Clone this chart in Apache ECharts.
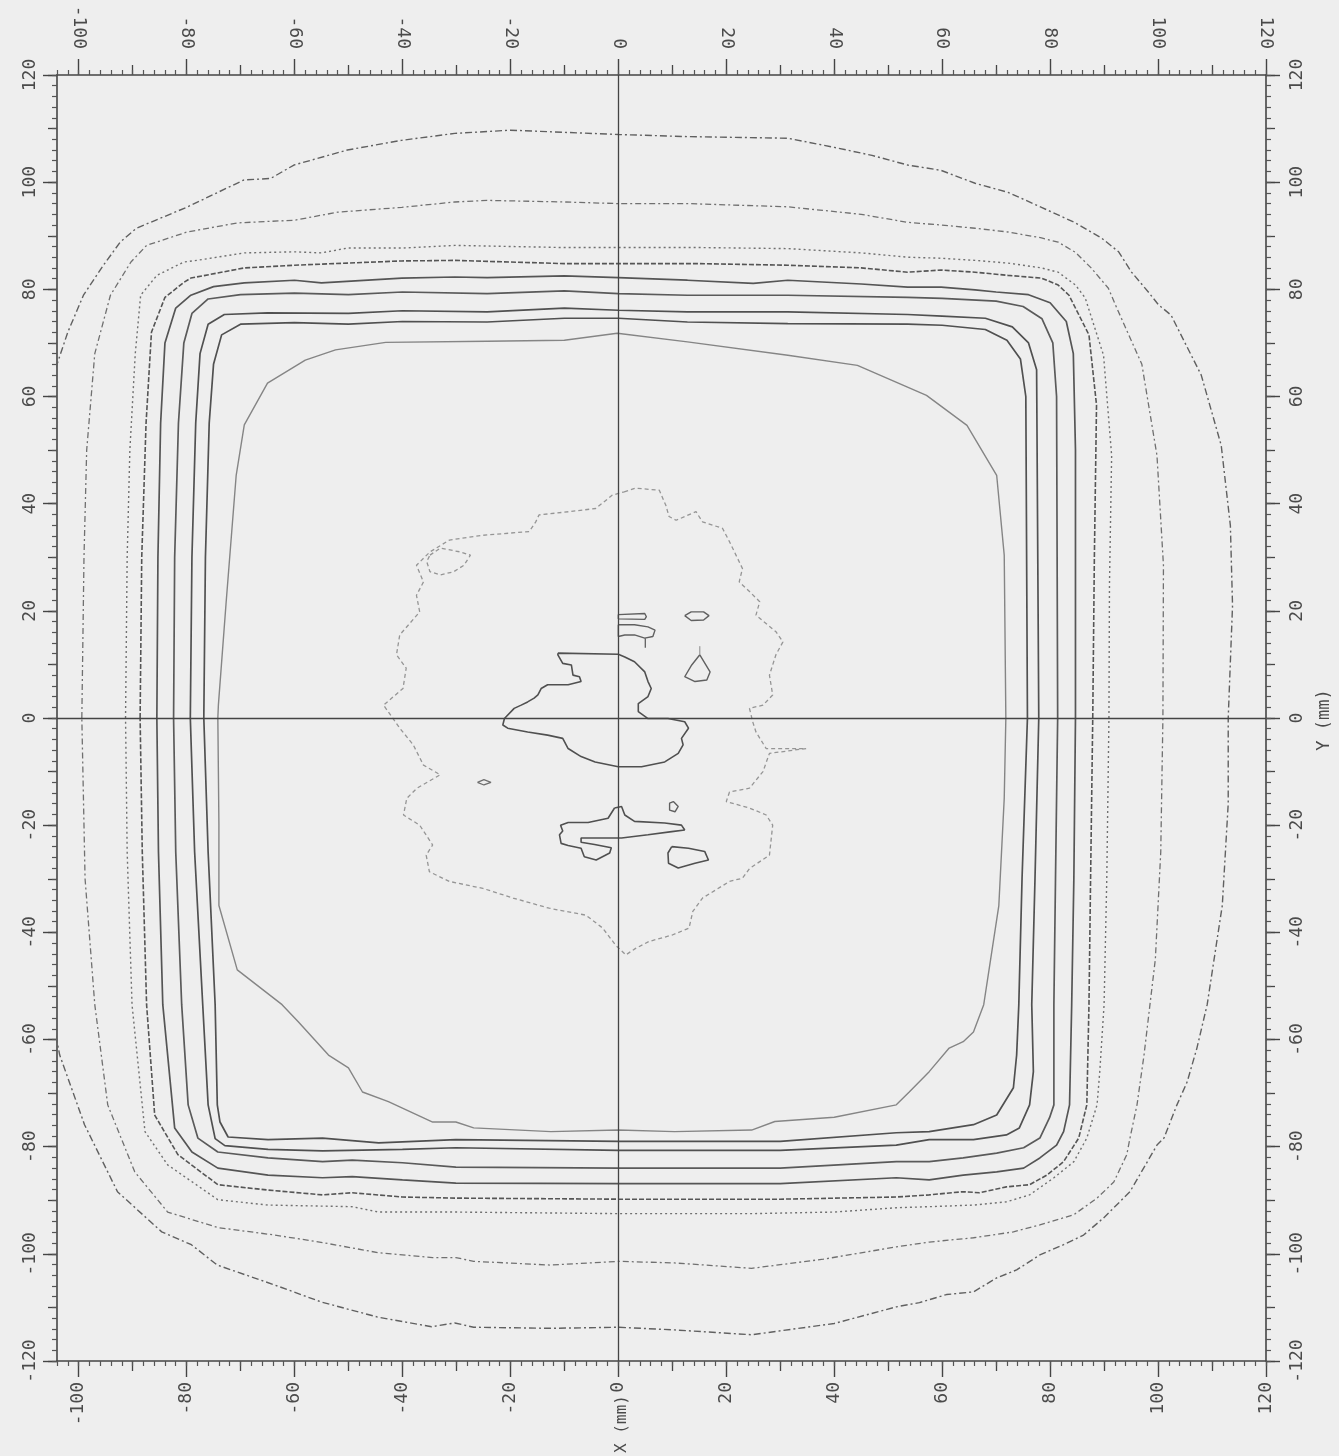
<!DOCTYPE html>
<html>
<head>
<meta charset="utf-8">
<title>Dose contours X / Y (mm)</title>
<script src="https://cdn.jsdelivr.net/npm/echarts@6/dist/echarts.min.js"></script>
<style>
  html, body { margin: 0; padding: 0; background: #eeeeee; }
  #chart { width: 1339px; height: 1456px; }
</style>
</head>
<body>
<div id="chart"></div>
<script>
// axis ticks (mm)
const xMajorTicks = [-100, -80, -60, -40, -20, 0, 20, 40, 60, 80, 100, 120]
const xMidTicks = [-90, -70, -50, -30, -10, 10, 30, 50, 70, 90, 110]

// contour lines, [x, y] in mm (outermost first)
const isoOuter = [
  [-106, 60], [-102, 72], [-99.1, 78.9], [-95.4, 84.5], [-92.3, 88.8], [-89.3, 91.4], [-80.0, 95.3],
  [-69.4, 100.4], [-64.4, 100.7], [-60.1, 103.2], [-50.2, 106.0], [-40.2, 107.8], [-30.3, 109.1],
  [-20, 109.7], [-10, 109.3], [0, 108.9], [12.8, 108.5], [31.4, 108.2], [40, 106.5], [47, 105.0],
  [53.6, 103.2], [59.8, 102.2], [66.1, 99.8], [72.2, 98.1], [78.4, 95.3], [84.7, 92.4], [89.5, 89.6],
  [92.7, 87.0], [95.1, 83.2], [98.2, 79.5], [100.1, 77.1], [102.4, 75.2], [108, 64], [111.7, 50.9],
  [113.4, 35.9], [113.8, 21.0], [113, 0], [113, -16], [111.9, -35], [109.1, -53.5], [107.2, -61.6],
  [105.4, -67.9], [103.5, -72.2], [101.1, -78.4], [99.8, -79.7], [94.8, -88.4], [89.9, -93.3],
  [86.2, -96.5], [82.5, -98.3], [78.1, -100.2], [73.8, -103.0], [70.1, -104.5], [65.8, -107.1],
  [60.8, -107.6], [55.8, -109.1], [51.5, -109.9], [40, -113.0], [24.7, -115.1], [10.4, -114.2],
  [0, -113.7], [-12.5, -113.9], [-26.8, -113.7], [-30.3, -112.9], [-34.6, -113.6], [-44.6, -111.8],
  [-55.0, -109.0], [-63.7, -105.8], [-74.3, -102.1], [-79.1, -98.3], [-84.6, -95.9], [-92.8, -88.4],
  [-98.9, -75.9], [-103.5, -62.9], [-106, -50], [-107, 0], [-106, 60]
]
const isoDashDot = [
  [-99.4, 0], [-99.0, 30], [-98.5, 50], [-97, 68], [-94.1, 78.9], [-90.3, 85.1], [-87.4, 88.2],
  [-79.9, 90.7], [-70.6, 92.4], [-60, 92.9], [-52, 94.4], [-40.1, 95.3], [-30.3, 96.3], [-24.3, 96.6],
  [-10, 96.3], [0, 96.0], [12.8, 96.0], [31.4, 95.4], [45, 94], [53.6, 92.5], [59.8, 92.0], [66.1, 91.4],
  [72.2, 90.7], [78.4, 89.6], [81.5, 88.8], [84.7, 86.9], [87.6, 84.0], [90.8, 80.2], [92.1, 77.1],
  [97, 66], [99.8, 49], [101, 28.5], [100.9, 0], [100.5, -25], [99.5, -45], [98.5, -53.5], [97.4, -62.9],
  [96.1, -72.2], [94.8, -78.4], [94.2, -81.5], [91.8, -86.6], [88.7, -89.6], [84.4, -92.7], [78.1, -94.6],
  [73.2, -95.9], [65.8, -97.0], [57.6, -97.8], [51.5, -98.7], [38, -101.0], [24.7, -102.7], [10.4, -101.7],
  [0, -101.4], [-12.5, -102.1], [-26.8, -101.4], [-30.1, -100.7], [-34.4, -100.7], [-44.4, -99.8],
  [-54.8, -97.9], [-63.6, -96.5], [-74.2, -95.1], [-83.5, -92.2], [-89.6, -84.7], [-94.6, -72.2],
  [-97.0, -53.5], [-98.8, -30], [-99.4, 0]
]
const isoDotted = [
  [-91.3, 0], [-91.0, 30], [-90.5, 50], [-89.5, 68], [-88.5, 78.9], [-85.5, 82.6], [-80.5, 85.1],
  [-78.1, 85.4], [-69.3, 86.8], [-60, 87.0], [-55, 86.8], [-50.2, 87.7], [-40.1, 87.7], [-30.3, 88.2],
  [-10, 87.8], [0, 87.8], [15, 87.8], [31.4, 87.6], [45, 86.8], [53.6, 86.0], [59.8, 85.8], [66.1, 85.4],
  [72.2, 84.9], [78.4, 84.0], [81.5, 83.2], [84.7, 80.8], [86.5, 78.4], [89.9, 67.7], [91.4, 49],
  [91, 25], [90.9, 0], [90.5, -30], [90.0, -53.5], [89.2, -66.0], [88.7, -72.2], [86.8, -78.4],
  [84.4, -82.8], [80.7, -85.8], [76.2, -89.0], [71.9, -90.3], [65.8, -90.9], [57.6, -91.2], [51.5, -91.4],
  [40, -92.2], [24.7, -92.5], [0, -92.5], [-30.1, -92.2], [-44.4, -92.2], [-49.3, -91.2], [-64.9, -90.9],
  [-74.2, -89.9], [-83.5, -83.4], [-87.7, -77.2], [-90.1, -53.5], [-91, -25], [-91.3, 0]
]
const isoDashed = [
  [-88.6, 0], [-88.3, 30], [-87.5, 55], [-86.5, 72], [-84, 78.5], [-80.5, 81.3], [-79.2, 82.1],
  [-69.3, 84.0], [-60, 84.5], [-50.2, 84.9], [-40.1, 85.3], [-30.3, 85.4], [-10, 84.8], [0, 84.8],
  [15, 84.8], [31.4, 84.5], [45, 84], [53.6, 83.2], [59.8, 83.6], [66.1, 83.2], [72.2, 82.6], [78.4, 82.1],
  [81.5, 80.8], [83.5, 78.9], [87.2, 71.5], [88.6, 58.4], [88.2, 30], [87.9, 0], [87.5, -30], [87.2, -53.5],
  [86.8, -72.2], [85.3, -78.4], [82.5, -82.8], [79.4, -85.3], [76.2, -87.1], [71.9, -87.5], [66.9, -88.6],
  [63.9, -88.4], [57.6, -89.0], [51.5, -89.4], [30, -89.8], [0, -89.8], [-30.1, -89.6], [-40, -89.4],
  [-49.3, -88.6], [-54.8, -89.0], [-64.9, -88.1], [-74.2, -87.1], [-81.6, -81.5], [-85.9, -74.1],
  [-87.4, -53.5], [-88.2, -25], [-88.6, 0]
]
const isoSolidA = [
  [-85.5, 0], [-85.3, 30], [-84.8, 55], [-84, 70], [-82, 76.5], [-79.2, 78.9], [-75, 80.5], [-69.3, 81.2],
  [-60, 81.7], [-55, 81.2], [-40.1, 82.1], [-30.3, 82.3], [-24.3, 82.2], [-10, 82.5], [0, 82.2], [12.8, 81.7],
  [25, 81.1], [31.4, 81.7], [45, 81], [53.6, 80.4], [59.8, 80.4], [66.1, 79.9], [70, 79.5], [76, 79.0],
  [80, 77.5], [83, 74], [84.3, 68], [84.7, 50], [84.7, 0], [84.4, -30], [84.0, -53.5], [83.6, -72.2],
  [82.5, -77.2], [81.2, -79.7], [78.1, -82.1], [75.1, -84.0], [70.1, -84.7], [63.9, -85.3], [57.6, -86.2],
  [51.5, -85.8], [30, -86.9], [0, -86.9], [-30.1, -86.8], [-40, -86.2], [-49.3, -85.6], [-54.8, -85.8],
  [-64.9, -85.3], [-74.2, -84.0], [-79.0, -81.0], [-82.2, -76.5], [-84.4, -53.5], [-85.2, -25], [-85.5, 0]
]
const isoSolidB = [
  [-82.4, 0], [-82.2, 30], [-81.5, 55], [-80.5, 70], [-79, 75.5], [-76, 78.2], [-70, 79], [-60, 79.3],
  [-50, 79.0], [-40, 79.5], [-24.3, 79.2], [-10, 79.7], [0, 79.2], [12.8, 78.9], [31.4, 78.9], [53.6, 78.5],
  [60, 78.3], [70, 77.8], [75, 76.8], [78.5, 74.5], [80.5, 70], [81.2, 60], [81.4, 0], [81.0, -30],
  [80.7, -53.5], [80.7, -72.2], [79.9, -74.6], [78.1, -78.4], [75.1, -80.2], [70.1, -81.2], [63.9, -82.1],
  [57.6, -82.8], [51.5, -82.8], [30, -84.0], [0, -84.0], [-30.1, -83.8], [-40, -83.0], [-49.3, -82.5],
  [-54.8, -82.8], [-64.9, -82.1], [-74.2, -81.0], [-77.9, -78.4], [-79.7, -72.2], [-80.9, -53.5],
  [-82, -25], [-82.4, 0]
]
const isoSolidC = [
  [-79.3, 0], [-79, 30], [-78.3, 55], [-77.5, 68], [-76, 73.5], [-73, 75.3], [-65, 75.6], [-50, 75.5],
  [-40, 76.0], [-24.3, 75.8], [-10, 76.5], [0, 76.1], [12.8, 75.8], [31.4, 75.8], [53.6, 75.3], [60, 75.0],
  [68, 74.6], [73, 73], [76, 70], [77.5, 65], [77.9, 0], [77.2, -30], [76.6, -53.5], [76.9, -66.0],
  [76.2, -72.2], [74.3, -76.5], [71.9, -77.8], [65.8, -78.7], [57.6, -78.7], [51.5, -79.7], [30, -80.7],
  [0, -80.7], [-30.1, -80.2], [-40, -80.5], [-54.8, -80.8], [-64.9, -80.5], [-72.9, -79.8], [-74.7, -78.5],
  [-76.0, -72.2], [-77.0, -53.5], [-78.5, -25], [-79.3, 0]
]
const isoSolidD = [
  [-76.8, 0], [-76.5, 30], [-75.8, 55], [-75, 66], [-73.5, 71.5], [-70, 73.5], [-60, 73.8], [-50, 73.5],
  [-40, 74.0], [-24.3, 73.9], [-10, 74.6], [0, 74.6], [12.8, 73.9], [31.4, 73.6], [53.6, 73.5], [60, 73.3],
  [68, 72.5], [72, 70.5], [74.5, 67], [75.5, 60], [75.8, 0], [74.8, -30], [74.2, -53.5], [73.8, -62.9],
  [73.2, -69.0], [70.1, -74.1], [65.8, -75.9], [57.6, -77.2], [51.5, -77.4], [30, -79.0], [0, -79.0],
  [-30.1, -78.7], [-44.4, -79.3], [-54.8, -78.4], [-64.9, -78.7], [-72.3, -78.2], [-73.8, -75.4],
  [-74.3, -72.2], [-74.7, -53.5], [-76, -25], [-76.8, 0]
]
const isoInner = [
  [-74.2, 0], [-74.1, 2.4], [-72.7, 21.1], [-70.8, 45.3], [-69.3, 54.7], [-65, 62.5], [-58, 66.8],
  [-52.4, 68.7], [-43.1, 70.1], [-24.3, 70.3], [-10, 70.5], [-0.2, 71.8], [12.8, 70.2], [31.4, 67.7],
  [44.3, 65.8], [57.1, 60.2], [64.6, 54.6], [70.1, 45.3], [71.5, 30.4], [71.8, 0], [71.5, -15], [70.5, -35],
  [67.7, -53.5], [65.8, -58.6], [63.9, -60.4], [61.3, -61.6], [57.6, -66.0], [53.9, -69.8], [51.5, -72.2],
  [40, -74.5], [29, -75.3], [24.7, -76.9], [10.4, -77.2], [0, -76.9], [-12.5, -77.2], [-26.8, -76.5],
  [-30.1, -75.4], [-34.4, -75.4], [-42.6, -71.6], [-47.4, -69.8], [-50.0, -65.3], [-53.7, -62.9],
  [-59.3, -56.7], [-62.3, -53.5], [-70.6, -47], [-74, -35], [-74.0, -20], [-74.2, 0]
]
const isoCore = [
  [1.1, 42.2], [3.2, 42.9], [7.6, 42.5], [8.8, 39.7], [9.4, 37.6], [10.7, 36.9], [14.4, 38.5], [15.6, 36.6],
  [19.3, 35.4], [20.6, 32.9], [21.8, 30.4], [23.0, 27.9], [22.4, 25.4], [24.3, 23.6], [26.2, 21.7],
  [25.5, 19.2], [29.2, 16.1], [30.5, 14.2], [29.2, 11.8], [28.0, 8.0], [28.6, 4.3], [26.8, 2.4], [24.3, 1.8],
  [24.9, -0.7], [25.5, -2.6], [27.4, -5.7], [34.8, -5.7], [28.0, -6.6], [26.8, -10.0], [24.3, -13.1],
  [20.6, -13.8], [20.0, -15.6], [24.3, -16.8], [27.4, -18.1], [28.6, -20.0], [28.0, -25.6], [24.3, -28.1],
  [23.0, -29.9], [20.6, -30.5], [15.6, -33.6], [13.8, -36.1], [13.1, -39.2], [10.0, -40.5], [5.7, -41.7],
  [3.2, -43.0], [1.4, -44.2], [-0.5, -42.4], [-2.9, -39.2], [-6.0, -36.8], [-12.8, -35.5], [-19.5, -33.6],
  [-25.1, -31.8], [-31.3, -30.5], [-35.0, -28.7], [-35.6, -25.6], [-34.4, -23.7], [-36.8, -20.0],
  [-39.8, -18.1], [-39.2, -15.0], [-37.3, -13.1], [-33.0, -10.6], [-36.1, -8.8], [-38.0, -5.0],
  [-40.5, -1.9], [-43.5, 2.4], [-39.9, 5.5], [-39.3, 9.3], [-41.1, 11.8], [-40.5, 15.5], [-36.8, 19.8],
  [-37.4, 22.9], [-36.1, 25.4], [-37.4, 28.5], [-34.9, 31.0], [-31.3, 33.2], [-25.1, 34.1], [-16.5, 34.8],
  [-15.3, 36.6], [-14.7, 37.9], [-9.2, 38.5], [-4.2, 39.1], [-1.1, 41.6], [1.1, 42.2]
]
const isoCoreEar = [
  [-34.9, 30.4], [-33.0, 31.7], [-29.3, 31.0], [-27.4, 30.4], [-28.6, 28.5], [-30.5, 27.3], [-33.0, 26.7],
  [-34.9, 27.3], [-35.5, 29.2], [-34.9, 30.4]
]

// highest-level islands (solid)
const peakCentre = [
  [-11.2, 12.1], [0.0, 11.9], [1.2, 11.4], [3.0, 10.5], [4.9, 8.6], [5.5, 6.8], [6.1, 5.5], [5.5, 4.0],
  [3.7, 2.7], [3.7, 1.2], [5.5, -0.1], [9.2, -0.1], [12.3, -0.7], [13.0, -1.9], [11.7, -3.8], [12.0, -5.0],
  [11.1, -6.6], [8.6, -8.2], [4.3, -9.1], [0.0, -9.1], [-4.3, -8.2], [-6.9, -7.2], [-9.3, -5.7],
  [-10.3, -3.8], [-13.1, -3.2], [-16.8, -2.6], [-20.5, -1.9], [-21.4, -1.3], [-21.1, -0.1], [-19.3, 1.8],
  [-18.0, 2.4], [-16.8, 3.0], [-15.6, 3.7], [-14.9, 4.3], [-14.3, 5.5], [-13.1, 6.2], [-9.3, 6.2],
  [-6.9, 6.8], [-7.2, 7.7], [-8.4, 8.0], [-8.7, 9.9], [-10.3, 10.2], [-11.2, 11.8], [-11.2, 12.1]
]
const peakBar = [[0, 19.3], [4.9, 19.5], [5.2, 18.9], [4.9, 18.4], [0, 18.5], [0, 19.3]]
const peakUpper = [
  [0, 17.4], [3.0, 17.4], [5.5, 17.0], [6.8, 16.4], [6.4, 15.2], [4.9, 14.9], [3.0, 15.5], [1.2, 15.5],
  [0, 15.2], [0, 17.4]
]
const peakUpperTail = [[5.0, 14.9], [5.0, 13.1]]
const peakOval = [[12.3, 19.1], [13.5, 19.8], [15.8, 19.8], [16.8, 19.1], [15.8, 18.3], [13.5, 18.2], [12.3, 19.1]]
const peakTriangle = [[15.1, 11.8], [17.0, 8.6], [16.4, 7.1], [14.2, 6.8], [12.3, 7.7], [13.6, 9.9], [15.1, 11.8]]
const peakTriangleTail = [[15.1, 11.8], [15.1, 13.4]]
const peakDot = [[-26.1, -12.0], [-24.9, -11.5], [-23.6, -12.0], [-24.9, -12.5], [-26.1, -12.0]]
const peakLower = [
  [-0.7, -16.8], [0.6, -16.5], [1.2, -18.1], [3.0, -19.3], [8.6, -19.6], [11.7, -20.0], [12.3, -20.9],
  [9.9, -21.2], [5.5, -21.8], [0.6, -22.4], [-6.9, -22.4], [-6.9, -23.2], [-4.4, -23.6], [-1.3, -24.2],
  [-1.6, -25.2], [-4.1, -26.5], [-6.3, -25.9], [-6.9, -24.3], [-9.3, -23.8], [-10.6, -23.4],
  [-10.9, -21.8], [-10.3, -21.1], [-10.7, -20.0], [-9.3, -19.5], [-5.6, -19.5], [-1.9, -18.7], [-0.7, -16.8]
]
const peakSmall = [[10.2, -15.6], [11.1, -16.5], [10.5, -17.5], [9.5, -17.2], [9.5, -15.9], [10.2, -15.6]]
const peakLowerRight = [
  [9.9, -24.0], [13.0, -24.3], [16.0, -24.9], [16.7, -26.5], [14.2, -27.1], [11.1, -28.0], [9.3, -27.1],
  [9.2, -25.2], [9.9, -24.0]
]

const INK = '#4a4a4a'
const FONT = '"DejaVu Sans Mono", monospace'

function contour(data, color, width, type) {
  return {
    type: 'line',
    data,
    showSymbol: false,
    silent: true,
    clip: true,
    lineStyle: { color, width, type },
  }
}

const series = [
  contour(isoOuter, '#606060', 1.4, [7, 3, 2, 3]),
  contour(isoDashDot, '#707070', 1.3, [6, 3, 2, 3]),
  contour(isoDotted, '#707070', 1.4, [2, 3]),
  contour(isoDashed, '#555', 1.6, [5, 2]),
  contour(isoSolidA, '#555', 1.7, 'solid'),
  contour(isoSolidB, '#5a5a5a', 1.7, 'solid'),
  contour(isoSolidC, '#505050', 1.7, 'solid'),
  contour(isoSolidD, '#505050', 1.7, 'solid'),
  contour(isoInner, '#858585', 1.4, 'solid'),
  contour(isoCore, '#959595', 1.3, [4, 3]),
  contour(isoCoreEar, '#959595', 1.3, [4, 3]),
  contour(peakCentre, '#505050', 1.6, 'solid'),
  contour(peakBar, '#606060', 1.4, 'solid'),
  contour(peakUpper, '#606060', 1.4, 'solid'),
  contour(peakUpperTail, '#606060', 1.3, 'solid'),
  contour(peakOval, '#606060', 1.4, 'solid'),
  contour(peakTriangle, '#606060', 1.4, 'solid'),
  contour(peakTriangleTail, '#888', 1, 'solid'),
  contour(peakDot, '#707070', 1.3, 'solid'),
  contour(peakLower, '#505050', 1.6, 'solid'),
  contour(peakSmall, '#606060', 1.4, 'solid'),
  contour(peakLowerRight, '#505050', 1.6, 'solid'),
]

// crosshair through the origin
series[0].markLine = {
  silent: true,
  symbol: 'none',
  label: { show: false },
  lineStyle: { color: '#444', width: 1.3, type: 'solid' },
  data: [{ xAxis: 0 }, { yAxis: 0 }],
}

const labelStyle = { color: INK, fontFamily: FONT, fontSize: 18, rotate: 90 }

function xAxisSet(position, margin) {
  return [
    {
      type: 'value', position, min: -104, max: 120,
      axisLine: { show: true, onZero: false, lineStyle: { color: '#444', width: 1.6 } },
      axisTick: { show: true, customValues: xMajorTicks, length: 16, lineStyle: { color: '#444', width: 1.4 } },
      axisLabel: { ...labelStyle, customValues: xMajorTicks, margin },
      splitLine: { show: false },
    },
    {
      type: 'value', position, min: -104, max: 120,
      axisLine: { show: false, onZero: false },
      axisTick: { show: true, customValues: xMidTicks, length: 10, lineStyle: { color: '#444', width: 1.3 } },
      axisLabel: { show: false },
      splitLine: { show: false },
    },
    {
      type: 'value', position, min: -104, max: 120, interval: 2,
      axisLine: { show: false, onZero: false },
      axisTick: { show: true, length: 5, lineStyle: { color: '#555', width: 1.2 } },
      axisLabel: { show: false },
      splitLine: { show: false },
    },
  ]
}

function yAxisSet(position, margin) {
  return [
    {
      type: 'value', position, min: -120, max: 120, interval: 20,
      axisLine: { show: true, onZero: false, lineStyle: { color: '#444', width: 1.6 } },
      axisTick: { show: true, length: 14, lineStyle: { color: '#444', width: 1.4 } },
      axisLabel: { ...labelStyle, margin, showMinLabel: true, showMaxLabel: true },
      splitLine: { show: false },
    },
    {
      type: 'value', position, min: -120, max: 120, interval: 10,
      axisLine: { show: false, onZero: false },
      axisTick: { show: true, length: 9, lineStyle: { color: '#444', width: 1.3 } },
      axisLabel: { show: false },
      splitLine: { show: false },
    },
    {
      type: 'value', position, min: -120, max: 120, interval: 2,
      axisLine: { show: false, onZero: false },
      axisTick: { show: true, length: 5, lineStyle: { color: '#555', width: 1.2 } },
      axisLabel: { show: false },
      splitLine: { show: false },
    },
  ]
}

const chart = echarts.init(document.getElementById('chart'), null, { renderer: 'canvas' })

chart.setOption({
  backgroundColor: '#eeeeee',
  animation: false,
  grid: { left: 57, right: 73, top: 75, bottom: 95 },
  xAxis: [...xAxisSet('bottom', 21), ...xAxisSet('top', 26)],
  yAxis: [...yAxisSet('left', 18), ...yAxisSet('right', 22)],
  series,
  graphic: [
    {
      type: 'text', x: 622, y: 1424, rotation: Math.PI / 2,
      style: {
        text: 'X (mm)', font: '16px ' + FONT, fill: INK,
        align: 'center', verticalAlign: 'middle', textAlign: 'center', textVerticalAlign: 'middle',
      },
    },
    {
      type: 'text', x: 1325, y: 720, rotation: Math.PI / 2,
      style: {
        text: 'Y (mm)', font: '17px ' + FONT, fill: INK,
        align: 'center', verticalAlign: 'middle', textAlign: 'center', textVerticalAlign: 'middle',
      },
    },
  ],
})
</script>
</body>
</html>
